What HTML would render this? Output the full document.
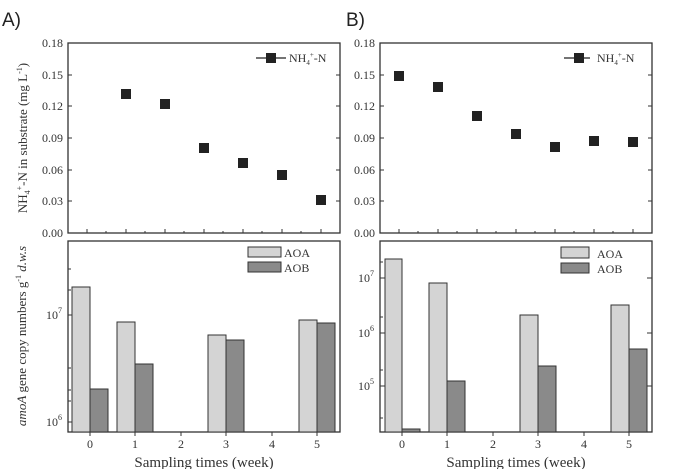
<!DOCTYPE html>
<html><head><style>body{margin:0;background:#fff}svg{display:block}</style></head><body>
<svg width="678" height="469" xmlns="http://www.w3.org/2000/svg" font-family="Liberation Serif, serif" fill="#333">
<text x="2" y="26" font-family="Liberation Sans, sans-serif" font-size="19" fill="#222">A)</text>
<text x="346" y="26" font-family="Liberation Sans, sans-serif" font-size="19" fill="#222">B)</text>
<g stroke="#333" stroke-width="1.3" fill="none">
<rect x="68" y="43" width="272" height="190"/>
<rect x="68" y="241" width="272" height="191"/>
<rect x="380" y="43" width="272" height="190"/>
<rect x="380" y="241" width="272" height="191"/>
</g>
<g stroke="#333" stroke-width="1">
<path d="M87 233v-4M126 233v-4M165 233v-4M204 233v-4M243 233v-4M282 233v-4M321 233v-4M106 233v-2M145 233v-2M184 233v-2M223 233v-2M262 233v-2M301 233v-2
M68 43h4M68 75h4M68 106h4M68 138h4M68 170h4M68 201h4M340 43h-4M340 75h-4M340 106h-4M340 138h-4M340 170h-4M340 201h-4"/>
<path d="M399 233v-4M438 233v-4M477 233v-4M516 233v-4M555 233v-4M594 233v-4M633 233v-4M418 233v-2M457 233v-2M496 233v-2M535 233v-2M574 233v-2M613 233v-2
M380 43h4M380 75h4M380 106h4M380 138h4M380 170h4M380 201h4M652 43h-4M652 75h-4M652 106h-4M652 138h-4M652 170h-4M652 201h-4"/>
<path d="M90 432v4M135 432v4M181 432v4M226 432v4M272 432v4M317 432v4M68 315h5M68 422h5M68 269h3M68 290h3M68 368h3M68 390h3M68 401h3"/>
<path d="M402 432v4M447 432v4M493 432v4M538 432v4M584 432v4M629 432v4M380 278h5M380 333h5M380 386h5M652 278h-5M652 333h-5M652 386h-5M380 262h3M380 317h3M380 370h3M380 418h3"/>
</g>
<g font-size="12" text-anchor="end">
<text x="63" y="47">0.18</text><text x="63" y="79">0.15</text><text x="63" y="110">0.12</text><text x="63" y="142">0.09</text><text x="63" y="174">0.06</text><text x="63" y="205">0.03</text><text x="63" y="237">0.00</text>
<text x="375" y="47">0.18</text><text x="375" y="79">0.15</text><text x="375" y="110">0.12</text><text x="375" y="142">0.09</text><text x="375" y="174">0.06</text><text x="375" y="205">0.03</text><text x="375" y="237">0.00</text>
<text x="62" y="319">10<tspan font-size="8" dy="-6">7</tspan></text>
<text x="62" y="426">10<tspan font-size="8" dy="-6">6</tspan></text>
<text x="374" y="282">10<tspan font-size="8" dy="-6">7</tspan></text>
<text x="374" y="337">10<tspan font-size="8" dy="-6">6</tspan></text>
<text x="374" y="390">10<tspan font-size="8" dy="-6">5</tspan></text>
</g>
<g font-size="12" text-anchor="middle">
<text x="90" y="448">0</text><text x="135" y="448">1</text><text x="181" y="448">2</text><text x="226" y="448">3</text><text x="272" y="448">4</text><text x="317" y="448">5</text>
<text x="402" y="448">0</text><text x="447" y="448">1</text><text x="493" y="448">2</text><text x="538" y="448">3</text><text x="584" y="448">4</text><text x="629" y="448">5</text>
</g>
<text x="204" y="467" font-size="15" text-anchor="middle">Sampling times (week)</text>
<text x="516" y="467" font-size="15" text-anchor="middle">Sampling times (week)</text>
<text transform="translate(27,138) rotate(-90)" font-size="13" text-anchor="middle">NH<tspan font-size="8" dy="3">4</tspan><tspan font-size="8" dy="-8">+</tspan><tspan dy="5">-N in substrate (mg L</tspan><tspan font-size="8" dy="-5">-1</tspan><tspan dy="5">)</tspan></text>
<text transform="translate(26,336) rotate(-90)" font-size="13" text-anchor="middle"><tspan font-style="italic">amoA</tspan> gene copy numbers g<tspan font-size="8" dy="-5">-1</tspan><tspan dy="5" font-style="italic"> d.w.s</tspan></text>
<g fill="#222">
<rect x="121" y="89" width="10" height="10"/><rect x="160" y="99" width="10" height="10"/><rect x="199" y="143" width="10" height="10"/><rect x="238" y="158" width="10" height="10"/><rect x="277" y="170" width="10" height="10"/><rect x="316" y="195" width="10" height="10"/>
<rect x="394" y="71" width="10" height="10"/><rect x="433" y="82" width="10" height="10"/><rect x="472" y="111" width="10" height="10"/><rect x="511" y="129" width="10" height="10"/><rect x="550" y="142" width="10" height="10"/><rect x="589" y="136" width="10" height="10"/><rect x="628" y="137" width="10" height="10"/>
<rect x="266" y="53" width="10" height="10"/><rect x="574" y="53" width="10" height="10"/>
</g>
<path d="M256 58h30M564 58h26" stroke="#222" stroke-width="1.2"/>
<text x="289" y="62" font-size="12">NH<tspan font-size="7" dy="3">4</tspan><tspan font-size="7" dy="-8">+</tspan><tspan dy="5">-N</tspan></text>
<text x="597" y="62" font-size="12">NH<tspan font-size="7" dy="3">4</tspan><tspan font-size="7" dy="-8">+</tspan><tspan dy="5">-N</tspan></text>
<g stroke="#333" stroke-width="1">
<g fill="#d4d4d4">
<rect x="72" y="287" width="18" height="145"/><rect x="117" y="322" width="18" height="110"/><rect x="208" y="335" width="18" height="97"/><rect x="299" y="320" width="18" height="112"/>
<rect x="385" y="259" width="17" height="173"/><rect x="429" y="283" width="18" height="149"/><rect x="520" y="315" width="18" height="117"/><rect x="611" y="305" width="18" height="127"/>
<rect x="248" y="247" width="33" height="10"/><rect x="561" y="247" width="28" height="11"/>
</g>
<g fill="#8a8a8a">
<rect x="90" y="389" width="18" height="43"/><rect x="135" y="364" width="18" height="68"/><rect x="226" y="340" width="18" height="92"/><rect x="317" y="323" width="18" height="109"/>
<rect x="402" y="429" width="18" height="3"/><rect x="447" y="381" width="18" height="51"/><rect x="538" y="366" width="18" height="66"/><rect x="629" y="349" width="18" height="83"/>
<rect x="248" y="262" width="33" height="10"/><rect x="561" y="263" width="28" height="10"/>
</g>
</g>
<g font-size="12"><text x="284" y="257">AOA</text><text x="284" y="272">AOB</text><text x="597" y="258">AOA</text><text x="597" y="273">AOB</text></g>
</svg>
</body></html>
